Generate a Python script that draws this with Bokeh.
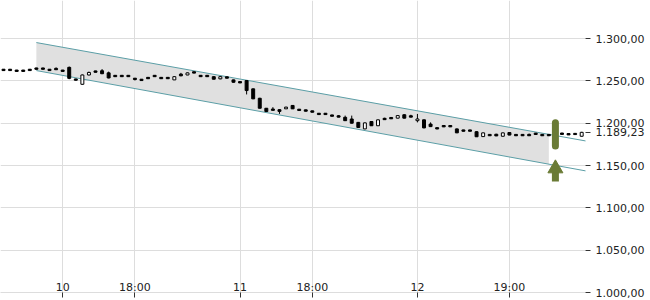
from bokeh.plotting import figure
from bokeh.models import Range1d, FixedTicker, ColumnDataSource, AllLabels
from bokeh.embed import file_html
from bokeh.resources import INLINE

# ---------------- data ----------------
candle_idx = list(range(89))
open_ = [1263.8, 1263.8, 1262.8, 1262.8, 1263.8, 1265.3, 1265.3, 1263.8, 1264.8, 1262.8,
         1266.0, 1252.3, 1246.0, 1257.0, 1261.8, 1262.0, 1259.5, 1256.6, 1256.6, 1256.6,
         1253.2, 1252.0, 1254.2, 1256.6, 1254.2, 1254.2, 1251.2, 1258.0, 1257.0, 1260.8,
         1256.6, 1256.6, 1255.0, 1252.4, 1254.8, 1251.2, 1249.2, 1250.4, 1240.6, 1229.5,
         1217.7, 1216.8, 1216.0, 1217.0, 1221.0, 1216.6, 1215.8, 1214.6, 1211.8, 1211.8,
         1209.8, 1208.8, 1207.0, 1205.0, 1201.0, 1193.3, 1202.0, 1197.0, 1205.8, 1206.8,
         1206.0, 1210.0, 1208.8, 1203.0, 1204.0, 1199.0, 1194.8, 1197.3, 1197.3, 1193.3,
         1192.1, 1192.1, 1190.0, 1184.2, 1186.8, 1187.0, 1184.6, 1189.0, 1186.8, 1186.8,
         1186.8, 1188.3, 1186.8, 1186.8, 1184.6, 1188.4, 1187.8, 1188.0, 1184.6]
high = [1264.0, 1264.0, 1263.0, 1263.0, 1264.0, 1265.5, 1265.5, 1264.0, 1266.0, 1263.0,
        1267.0, 1252.5, 1257.5, 1261.0, 1262.0, 1264.0, 1261.0, 1256.8, 1256.8, 1256.8,
        1253.4, 1252.2, 1254.4, 1256.8, 1254.4, 1254.4, 1255.5, 1259.5, 1260.0, 1261.0,
        1256.8, 1256.8, 1255.5, 1255.5, 1255.0, 1251.5, 1249.4, 1251.0, 1241.0, 1230.0,
        1218.0, 1219.0, 1216.5, 1219.5, 1221.5, 1216.8, 1216.0, 1214.8, 1212.0, 1212.0,
        1210.0, 1209.5, 1209.0, 1209.0, 1201.5, 1200.8, 1202.5, 1204.5, 1206.5, 1207.0,
        1209.5, 1210.5, 1210.0, 1211.0, 1204.5, 1201.0, 1195.0, 1197.8, 1197.5, 1193.8,
        1192.3, 1192.3, 1190.5, 1189.0, 1187.0, 1187.5, 1189.0, 1189.5, 1187.0, 1187.0,
        1187.8, 1188.5, 1187.0, 1187.0, 1189.0, 1188.6, 1188.0, 1188.5, 1189.8]
low = [1262.0, 1262.0, 1261.0, 1261.0, 1262.0, 1263.5, 1263.5, 1262.0, 1263.0, 1261.0,
       1252.0, 1250.5, 1245.5, 1256.5, 1260.0, 1258.0, 1253.0, 1254.8, 1254.8, 1254.8,
       1250.5, 1250.2, 1252.4, 1254.8, 1252.4, 1252.4, 1251.0, 1255.5, 1256.8, 1259.0,
       1254.8, 1254.8, 1251.8, 1252.0, 1253.0, 1248.0, 1247.4, 1234.0, 1228.5, 1217.5,
       1213.5, 1215.0, 1211.0, 1216.8, 1216.8, 1214.8, 1214.0, 1212.8, 1210.0, 1210.0,
       1208.0, 1207.0, 1202.8, 1199.8, 1194.8, 1193.0, 1196.8, 1196.8, 1204.0, 1205.0,
       1205.8, 1205.8, 1207.0, 1201.0, 1194.0, 1195.5, 1193.0, 1195.5, 1195.5, 1188.4,
       1190.3, 1190.3, 1183.8, 1184.0, 1185.0, 1184.8, 1184.4, 1185.8, 1185.0, 1185.0,
       1185.0, 1186.5, 1185.0, 1185.0, 1184.4, 1186.6, 1186.0, 1186.4, 1184.4]
close = [1262.2, 1262.2, 1261.2, 1261.2, 1262.2, 1263.7, 1263.7, 1262.2, 1263.2, 1261.2,
         1253.0, 1250.8, 1257.0, 1260.0, 1260.2, 1258.5, 1253.5, 1255.0, 1255.0, 1255.0,
         1251.6, 1250.4, 1252.6, 1255.0, 1252.6, 1252.6, 1255.0, 1256.0, 1259.5, 1259.2,
         1255.0, 1255.0, 1252.0, 1255.0, 1253.2, 1248.4, 1247.6, 1238.6, 1228.8, 1217.7,
         1213.8, 1215.2, 1214.0, 1219.0, 1217.0, 1215.0, 1214.2, 1213.0, 1210.2, 1210.2,
         1208.2, 1207.2, 1203.0, 1200.0, 1195.0, 1200.4, 1197.0, 1204.0, 1204.2, 1205.2,
         1209.0, 1206.0, 1207.2, 1205.0, 1194.5, 1196.0, 1193.2, 1195.7, 1195.7, 1188.6,
         1190.5, 1190.5, 1184.0, 1188.6, 1185.2, 1185.0, 1188.6, 1186.0, 1185.2, 1185.2,
         1185.2, 1186.7, 1185.2, 1185.2, 1188.6, 1186.8, 1186.2, 1186.6, 1189.23]

x_ticks = [9, 20, 36, 47, 63, 77]
x_labels = ["10", "18:00", "11", "18:00", "12", "19:00"]
y_ticks = [1000, 1050, 1100, 1150, 1200, 1250, 1300]
y_labels = ["1.000,00", "1.050,00", "1.100,00", "1.150,00", "1.200,00", "1.250,00", "1.300,00"]

# trend channel
channel_x = [5, 89]
channel_upper = [1295.3, 1178.5]
channel_lower = [1262.2, 1143.1]
band_x = [5, 83]
band_upper = [1295.3, 1186.9]
band_lower = [1262.2, 1151.6]

# signal marker
marker_x = [84]
marker_bar_low = [1173.0]
marker_bar_high = [1200.5]
arrow_base = [1131.0]
arrow_shaft_top = [1146.0]
arrow_head = [1146.5]

last_price = 1189.23
last_label = "1.189,23"

# ---------------- figure ----------------
p = figure(width=650, height=300, output_backend="svg", toolbar_location=None,
           x_range=Range1d(-0.46, 88.58), y_range=Range1d(1000, 1345),
           y_axis_location="right",
           min_border_left=0, min_border_top=0, min_border_bottom=8, min_border_right=65)
p.outline_line_color = None
p.background_fill_color = "white"
p.border_fill_color = "white"

grid_col = "#dddddd"
p.xgrid.grid_line_color = grid_col
p.ygrid.grid_line_color = grid_col
p.xgrid.ticker = FixedTicker(ticks=x_ticks)
p.ygrid.ticker = FixedTicker(ticks=y_ticks)

# band + channel lines
p.varea(x=band_x, y1=band_lower, y2=band_upper, fill_color="#e0e0e0", fill_alpha=1.0)
p.line(channel_x, channel_upper, line_color="#5b9ea6", line_width=1)
p.line(channel_x, channel_lower, line_color="#5b9ea6", line_width=1)

# candles
up = [c >= o for o, c in zip(open_, close)]
src = ColumnDataSource(dict(
    x=candle_idx,
    top=[max(o, c) for o, c in zip(open_, close)],
    bottom=[min(o, c) for o, c in zip(open_, close)],
    high=high, low=low,
    fill=["white" if u else "black" for u in up],
))
p.segment(x0="x", y0="low", x1="x", y1="high", source=src, line_color="black", line_width=1)
p.vbar(x="x", top="top", bottom="bottom", width=0.45, source=src,
       fill_color="fill", line_color="black", line_width=1)

# signal marker
green = "#6a7b35"
p.segment(x0=marker_x, y0=marker_bar_low, x1=marker_x, y1=marker_bar_high,
          line_color=green, line_width=7, line_cap="round")
p.segment(x0=marker_x, y0=arrow_base, x1=marker_x, y1=arrow_shaft_top,
          line_color=green, line_width=7, line_cap="butt")
p.scatter(x=marker_x, y=arrow_head, marker="triangle", size=15,
          fill_color=green, line_color=green)

# axes
font = "DejaVu Sans"
xa = p.xaxis[0]
xa.ticker = FixedTicker(ticks=x_ticks)
xa.major_label_overrides = {t: l for t, l in zip(x_ticks, x_labels)}
xa.axis_line_color = "#dddddd"
xa.major_tick_in = 0
xa.major_tick_out = 5
xa.major_tick_line_color = "#333333"
xa.minor_tick_line_color = None
xa.major_label_standoff = -17
xa.major_label_text_font = font
xa.major_label_text_font_size = "11px"
xa.major_label_text_color = "#222222"

ya = p.yaxis[0]
axis_ticks = y_ticks + [last_price]
overrides = {t: l for t, l in zip(y_ticks, y_labels)}
overrides[last_price] = last_label
ya.ticker = FixedTicker(ticks=axis_ticks)
ya.major_label_overrides = overrides
ya.major_label_policy = AllLabels()
ya.axis_line_color = None
ya.major_tick_in = 0
ya.major_tick_out = 5
ya.major_tick_line_color = "#333333"
ya.minor_tick_line_color = None
ya.major_label_standoff = 5
ya.major_label_text_font = font
ya.major_label_text_font_size = "11px"
ya.major_label_text_color = "#222222"

open("out.html", "w").write(file_html(p, INLINE))
